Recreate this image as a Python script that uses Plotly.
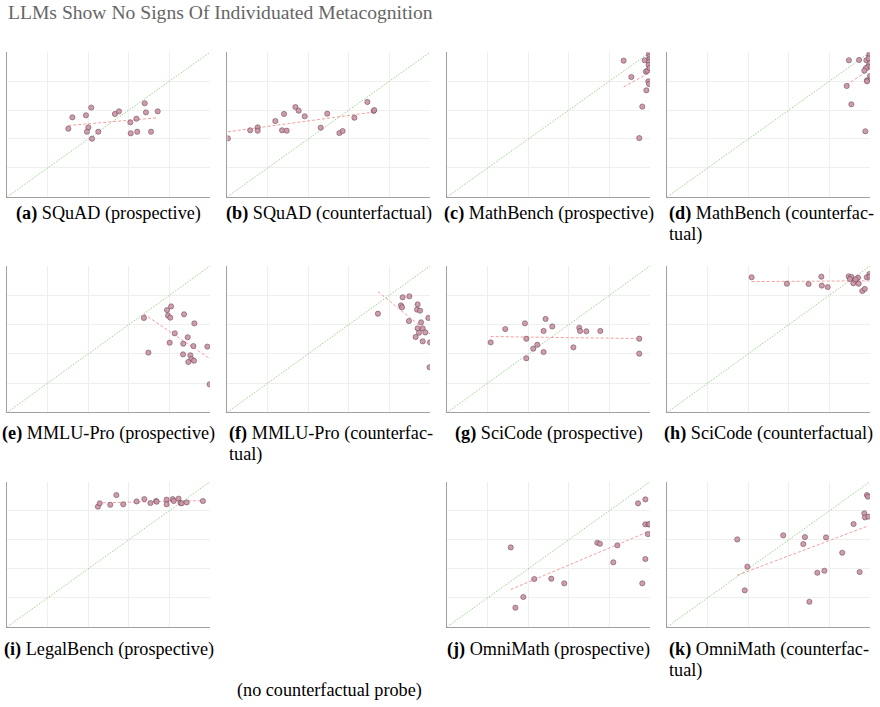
import numpy as np
import plotly.graph_objects as go

W, H = 880, 707

# ---------------- data ----------------
a_x = [0.301, 0.321, 0.414, 0.388, 0.400, 0.393, 0.449, 0.418, 0.531, 0.551, 0.607, 0.609, 0.637, 0.641, 0.678, 0.684, 0.709, 0.742]
a_y = [0.471, 0.550, 0.617, 0.564, 0.480, 0.450, 0.450, 0.402, 0.573, 0.591, 0.515, 0.439, 0.540, 0.450, 0.647, 0.584, 0.450, 0.591]

b_x = [0.003, 0.113, 0.150, 0.150, 0.237, 0.270, 0.280, 0.293, 0.336, 0.352, 0.382, 0.461, 0.493, 0.553, 0.569, 0.627, 0.691, 0.722, 0.725]
b_y = [0.404, 0.460, 0.480, 0.457, 0.524, 0.460, 0.573, 0.457, 0.621, 0.596, 0.557, 0.478, 0.575, 0.441, 0.455, 0.547, 0.656, 0.594, 0.600]

c_x = [0.870, 0.908, 0.974, 0.980, 0.987, 0.992, 0.995, 0.982, 0.962, 0.947, 0.995, 0.997, 0.997, 0.995, 0.993, 0.998]
c_y = [0.942, 0.829, 0.945, 0.866, 0.873, 0.799, 0.781, 0.737, 0.624, 0.406, 0.988, 0.970, 0.951, 0.933, 0.912, 0.891]

d_x = [0.896, 0.946, 0.982, 0.997, 0.997, 0.993, 0.997, 0.990, 0.980, 0.972, 1.000, 0.985, 0.985, 0.885, 0.908, 0.977]
d_y = [0.945, 0.947, 0.945, 0.977, 0.988, 0.958, 0.924, 0.901, 0.891, 0.873, 0.836, 0.806, 0.799, 0.767, 0.640, 0.453]

e_x = [0.674, 0.696, 0.788, 0.808, 0.793, 0.804, 0.872, 0.923, 0.826, 0.801, 0.890, 0.868, 0.918, 0.987, 0.867, 0.903, 0.908, 0.893, 0.921, 0.998]
e_y = [0.645, 0.408, 0.699, 0.724, 0.661, 0.647, 0.670, 0.608, 0.540, 0.476, 0.513, 0.469, 0.453, 0.449, 0.396, 0.390, 0.364, 0.344, 0.353, 0.191]

f_x = [0.743, 0.865, 0.898, 0.857, 0.862, 0.939, 0.936, 0.951, 0.992, 0.896, 0.956, 0.939, 0.964, 0.946, 0.977, 0.929, 0.964, 1.000, 0.998]
f_y = [0.674, 0.786, 0.793, 0.731, 0.718, 0.738, 0.702, 0.695, 0.645, 0.624, 0.615, 0.574, 0.574, 0.544, 0.546, 0.515, 0.485, 0.478, 0.308]

g_x = [0.214, 0.286, 0.383, 0.390, 0.390, 0.424, 0.444, 0.475, 0.485, 0.475, 0.518, 0.622, 0.651, 0.655, 0.686, 0.755, 0.947, 0.947]
g_y = [0.478, 0.569, 0.608, 0.503, 0.369, 0.435, 0.462, 0.556, 0.638, 0.412, 0.587, 0.444, 0.578, 0.556, 0.554, 0.556, 0.503, 0.401]

h_x = [0.416, 0.590, 0.697, 0.760, 0.762, 0.791, 0.895, 0.908, 0.901, 0.926, 0.941, 0.918, 0.944, 0.929, 0.962, 0.974, 0.984, 0.997, 0.998]
h_y = [0.923, 0.879, 0.877, 0.927, 0.866, 0.856, 0.929, 0.925, 0.911, 0.900, 0.920, 0.882, 0.879, 0.909, 0.829, 0.843, 0.923, 0.945, 0.927]

i_x = [0.447, 0.456, 0.508, 0.538, 0.572, 0.638, 0.676, 0.706, 0.734, 0.737, 0.786, 0.786, 0.816, 0.821, 0.845, 0.854, 0.860, 0.885, 0.965]
i_y = [0.828, 0.851, 0.841, 0.908, 0.844, 0.864, 0.880, 0.853, 0.867, 0.862, 0.876, 0.844, 0.880, 0.867, 0.883, 0.853, 0.851, 0.857, 0.867]

j_x = [0.313, 0.336, 0.375, 0.429, 0.513, 0.577, 0.740, 0.753, 0.839, 0.819, 0.941, 0.977, 0.977, 0.992, 0.997, 0.990, 0.977, 0.962]
j_y = [0.547, 0.131, 0.205, 0.329, 0.331, 0.299, 0.579, 0.572, 0.561, 0.444, 0.851, 0.878, 0.706, 0.706, 0.706, 0.639, 0.467, 0.299]

k_x = [0.345, 0.382, 0.395, 0.572, 0.671, 0.679, 0.740, 0.775, 0.783, 0.863, 0.701, 0.919, 0.949, 0.972, 0.975, 0.992, 0.985, 0.990]
k_y = [0.602, 0.251, 0.414, 0.630, 0.570, 0.618, 0.372, 0.386, 0.616, 0.510, 0.172, 0.708, 0.377, 0.782, 0.754, 0.759, 0.908, 0.897]

letters = ["a", "b", "c", "d", "e", "f", "g", "h", "i", "j", "k"]
# caption lines (second element is the wrapped continuation, if any)
captions = [("SQuAD (prospective)", ""), ("SQuAD (counterfactual)", ""),
            ("MathBench (prospective)", ""), ("MathBench (counterfac-", "tual)"),
            ("MMLU-Pro (prospective)", ""), ("MMLU-Pro (counterfac-", "tual)"),
            ("SciCode (prospective)", ""), ("SciCode (counterfactual)", ""),
            ("LegalBench (prospective)", ""), ("OmniMath (prospective)", ""),
            ("OmniMath (counterfac-", "tual)")]
series = [(a_x, a_y), (b_x, b_y), (c_x, c_y), (d_x, d_y), (e_x, e_y), (f_x, f_y),
          (g_x, g_y), (h_x, h_y), (i_x, i_y), (j_x, j_y), (k_x, k_y)]
# grid cell (row, col) for each panel
cells = [(0, 0), (0, 1), (0, 2), (0, 3), (1, 0), (1, 1), (1, 2), (1, 3), (2, 0), (2, 2), (2, 3)]

title_text = "LLMs Show No Signs Of Individuated Metacognition"
empty_note = "(no counterfactual probe)"

# ---------------- layout geometry (pixels) ----------------
col_px = [(7.3, 210), (227.3, 430), (447.3, 650), (667.3, 870)]
row_px = [(52.3, 196.7), (266, 412.3), (481.7, 626.7)]
cap_y = [213, 433, 649]
LINE_GAP = 21.5

SERIF = "Liberation Serif, DejaVu Serif, serif"
CAP_SIZE = 18.2
MARK = "rgba(203,148,166,0.92)"
MARK_EDGE = "rgba(105,70,82,0.9)"

fig = go.Figure()
layout = dict(width=W, height=H, margin=dict(l=0, r=0, t=0, b=0),
              paper_bgcolor="white", plot_bgcolor="white", showlegend=False)
annotations = []

for n, ((xs, ys), (r, c)) in enumerate(zip(series, cells)):
    idx = "" if n == 0 else str(n + 1)
    xa, ya = "x" + idx, "y" + idx
    x0, x1 = col_px[c]
    y0, y1 = row_px[r]
    axis_common = dict(range=[0, 1], showgrid=True, gridcolor="#efefef", gridwidth=1,
                       dtick=0.2, tick0=0, showticklabels=False, ticks="",
                       zeroline=False, showline=True, linecolor="#a0a0a0", linewidth=1,
                       fixedrange=True)
    layout["xaxis" + idx] = dict(domain=[x0 / W, x1 / W], anchor=ya, **axis_common)
    layout["yaxis" + idx] = dict(domain=[1 - y1 / H, 1 - y0 / H], anchor=xa, **axis_common)

    # diagonal y = x
    fig.add_trace(go.Scatter(x=[0, 1], y=[0, 1], mode="lines", xaxis=xa, yaxis=ya,
                             line=dict(color="rgba(135,205,120,0.85)", width=1, dash="1.5px,1.5px"),
                             hoverinfo="skip"))
    # least squares fit
    xa_arr, ya_arr = np.array(xs), np.array(ys)
    slope, icpt = np.polyfit(xa_arr, ya_arr, 1)
    fx = np.array([xa_arr.min(), xa_arr.max()])
    fig.add_trace(go.Scatter(x=fx, y=icpt + slope * fx, mode="lines", xaxis=xa, yaxis=ya,
                             line=dict(color="rgba(245,140,140,0.85)", width=1, dash="3px,2px"),
                             hoverinfo="skip"))
    fig.add_trace(go.Scatter(x=xs, y=ys, mode="markers", xaxis=xa, yaxis=ya,
                             marker=dict(size=5.2, color=MARK, line=dict(color=MARK_EDGE, width=0.6))))

    line1, line2 = captions[n]
    text = "<b>(%s)</b> %s" % (letters[n], line1)
    font = dict(family=SERIF, size=CAP_SIZE, color="black")
    if line2:
        annotations.append(dict(text=text, xref="paper", yref="paper", x=x0 / W,
                                y=1 - cap_y[r] / H, xanchor="left", yanchor="middle",
                                showarrow=False, font=font))
        annotations.append(dict(text=line2, xref="paper", yref="paper", x=x0 / W,
                                y=1 - (cap_y[r] + LINE_GAP) / H, xanchor="left", yanchor="middle",
                                showarrow=False, font=font))
    else:
        annotations.append(dict(text=text, xref="paper", yref="paper", x=(x0 + x1) / 2 / W,
                                y=1 - cap_y[r] / H, xanchor="center", yanchor="middle",
                                showarrow=False, font=font))

annotations.append(dict(text=empty_note, xref="paper", yref="paper", x=329 / W, y=1 - 690 / H,
                        xanchor="center", yanchor="middle", showarrow=False,
                        font=dict(family=SERIF, size=CAP_SIZE, color="black")))
annotations.append(dict(text=title_text, xref="paper", yref="paper", x=6 / W, y=1 - 13 / H,
                        xanchor="left", yanchor="middle", showarrow=False,
                        font=dict(family=SERIF, size=19.6, color="#666666")))
layout["annotations"] = annotations
fig.update_layout(**layout)
fig.write_html("out.html")
